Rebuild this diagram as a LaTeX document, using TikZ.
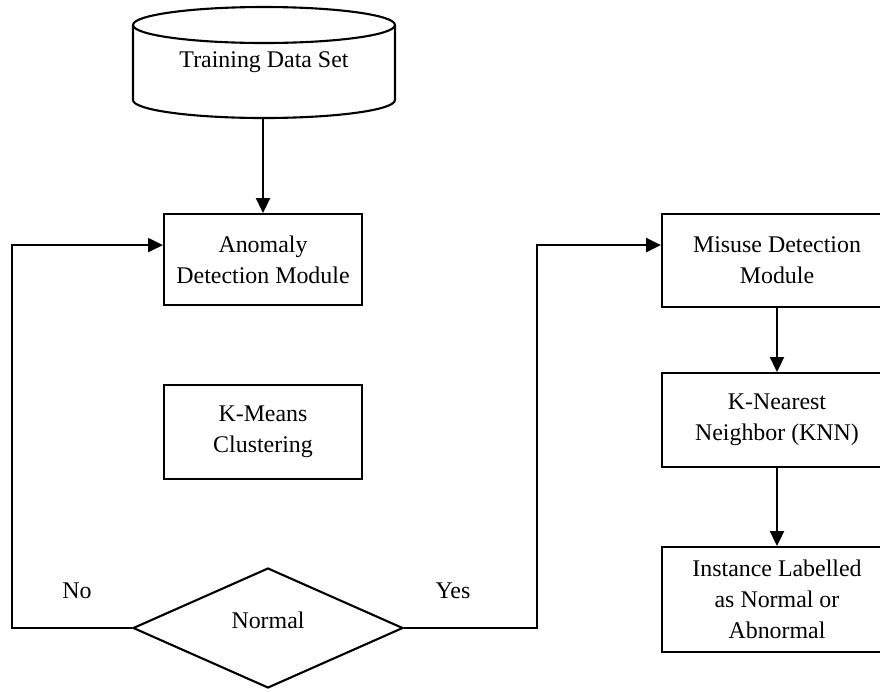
\documentclass[tikz,border=0pt]{standalone}
\usepackage{fontspec}
\setmainfont{Liberation Serif}
\usetikzlibrary{arrows.meta,shapes.geometric,calc}

\begin{document}
\begin{tikzpicture}[
    x=0.02cm,
    y=-0.02cm,
    font=\fontsize{13.6pt}{17.6pt}\selectfont,
    line/.style={black, line width=1.2pt},
    flow/.style={line, -{Triangle[length=8.5pt,width=8pt]}},
    box/.style={draw, line width=1.2pt, align=center, inner sep=2pt},
    decision/.style={diamond, draw, line width=1.2pt, inner sep=0pt,
      minimum width=5.4cm, minimum height=2.4cm}
  ]
    \clip (0,0) rectangle (880,691);

    % Base de datos de entrenamiento
    \draw[line] (133,25) -- (133,100)
      arc[start angle=180, end angle=360, x radius=2.62cm, y radius=0.36cm]
      -- (395,25);
    \draw[line] (264,25) ellipse [x radius=2.62cm, y radius=0.36cm];
    \node (train) at (264,62) {Training Data Set};
    \coordinate (trainbase) at (263,118);

    % Columna izquierda
    \node[box, minimum width=3.96cm, minimum height=1.82cm]
      (anomaly) at (263,259.5) {Anomaly\\Detection Module};
    \node[box, minimum width=3.96cm, minimum height=1.88cm]
      (kmeans) at (263,432) {K-Means\\Clustering};
    \node[decision, text depth=9pt] (normal) at (268,628) {Normal};

    % Columna derecha
    \node[box, minimum width=4.6cm, minimum height=1.86cm]
      (misuse) at (777,260.5) {Misuse Detection\\Module};
    \node[box, minimum width=4.6cm, minimum height=1.88cm]
      (knn) at (777,420) {K-Nearest\\Neighbor (KNN)};
    \node[box, minimum width=4.6cm, minimum height=2.1cm]
      (instance) at (777,599.5) {Instance Labelled\\as Normal or\\Abnormal};

    % Conexiones
    \draw[flow] (trainbase) -- (anomaly);
    \draw[flow] (normal.west) -- (12,628) |- ([yshift=8.2pt]anomaly.west);
    \draw[flow] (normal.east) -- (537,628) |- ([yshift=8.8pt]misuse.west);
    \draw[flow] (misuse) -- (knn);
    \draw[flow] (knn) -- (instance);

    \node[anchor=base] (no) at (77,598) {No};
    \node[anchor=base] (yes) at (453,598) {Yes};
  \end{tikzpicture}
\end{document}
